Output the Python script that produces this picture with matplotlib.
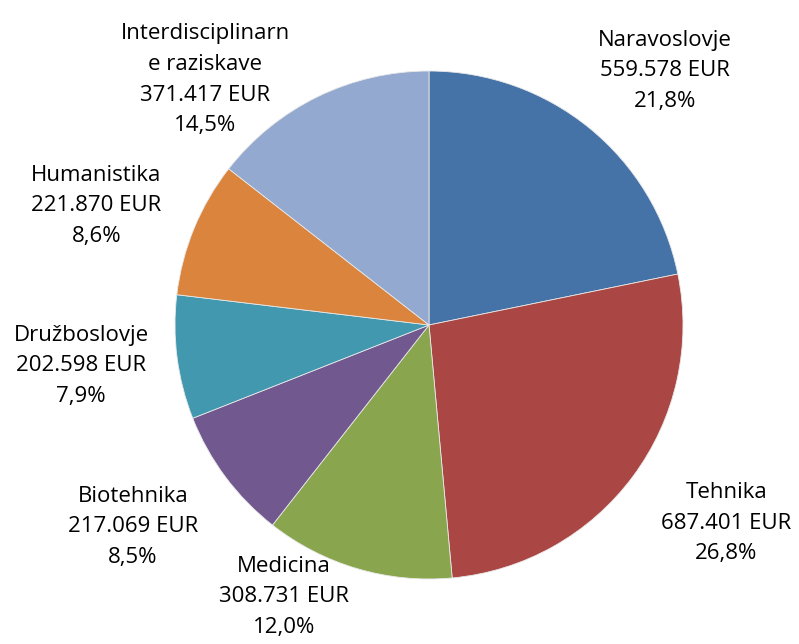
import matplotlib
matplotlib.use('Agg')
import matplotlib.pyplot as plt

# podatki
categories = ['Naravoslovje', 'Tehnika', 'Medicina', 'Biotehnika',
              'Družboslovje', 'Humanistika', 'Interdisciplinarn\ne raziskave']
values = [559578, 687401, 308731, 217069, 202598, 221870, 371417]
colors = ['#4572A7', '#AA4643', '#89A54E', '#71588F',
          '#4198AF', '#DB843D', '#93A9CF']

# položaji oznak (v enotah polmera)
label_pos = [(0.93, 1.00), (1.17, -0.78), (-0.57, -1.07), (-1.165, -0.795),
             (-1.37, -0.16), (-1.31, 0.47), (-0.88, 0.965)]

plt.rcParams['font.family'] = ['Open Sans', 'DejaVu Sans']

fig = plt.figure(figsize=(7.99, 6.44), dpi=100)
ax = fig.add_axes([0, 0, 1, 1])

wedges, _ = ax.pie(values, colors=colors, startangle=90, counterclock=False,
                   radius=1.0, wedgeprops=dict(edgecolor='#e8e8e8', linewidth=0.6))

total = sum(values)
for name, v, (x, y) in zip(categories, values, label_pos):
    pct = f'{v / total * 100:.1f}'.replace('.', ',') + '%'
    amount = f'{v:,}'.replace(',', '.') + ' EUR'
    ax.text(x, y, f'{name}\n{amount}\n{pct}', ha='center', va='center',
            fontsize=16, linespacing=1.6, color='black')

ax.set_xlim(-429 / 254, 370 / 254)
ax.set_ylim(-319 / 254, 325 / 254)
ax.set_aspect('equal')
ax.axis('off')

fig.savefig('out.png', dpi=100)
